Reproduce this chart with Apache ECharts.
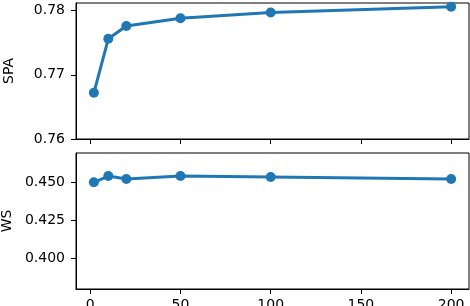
<!DOCTYPE html>
<html><head><meta charset="utf-8">
<script src="https://cdn.jsdelivr.net/npm/echarts@6/dist/echarts.min.js"></script>
<style>html,body{margin:0;padding:0;background:#fff}#c{width:470px;height:306px}</style>
</head><body><div id="c"></div>
<script>
const xValues = [2, 10, 20, 50, 100, 200];
const spaValues = [0.7672, 0.7756, 0.7776, 0.7788, 0.7797, 0.7806];
const wsValues = [0.4500, 0.4541, 0.4522, 0.4541, 0.4535, 0.4522];
const xTicks = [0, 50, 100, 150, 200];
const spaTicks = [0.76, 0.77, 0.78];
const wsTicks = [0.400, 0.425, 0.450];

const font = 'DejaVu Sans';
const blue = '#1f77b4';
function xAxis(idx, showLabels) {
  return {
    type: 'value', gridIndex: idx, min: -7.9, max: 209.9,
    axisLine: {show: true, onZero: false, lineStyle: {color: '#000', width: 1}},
    axisTick: {show: true, length: 5, inside: false, customValues: xTicks, lineStyle: {color: '#000', width: 1}},
    axisLabel: {show: showLabels, customValues: xTicks, margin: 9, fontFamily: font, fontSize: 14, color: '#000'},
    splitLine: {show: false}
  };
}
function yAxis(idx, name, min, max, ticks, dec) {
  return {
    type: 'value', gridIndex: idx, min: min, max: max, name: name,
    nameLocation: 'middle', nameGap: 60, nameRotate: 90,
    nameTextStyle: {fontFamily: font, fontSize: 14, color: '#000'},
    axisLine: {show: true, onZero: false, lineStyle: {color: '#000', width: 1}},
    axisTick: {show: true, length: 5, inside: false, customValues: ticks, lineStyle: {color: '#000', width: 1}},
    axisLabel: {customValues: ticks, margin: 11, fontFamily: font, fontSize: 14, color: '#000',
      formatter: v => v.toFixed(dec)},
    splitLine: {show: false}
  };
}
const chart = echarts.init(document.getElementById('c'), null, {renderer: 'canvas'});
chart.setOption({
  animation: false,
  backgroundColor: '#fff',
  textStyle: {fontFamily: font, fontSize: 14},
  grid: [
    {left: 76, top: 3, width: 393, height: 136, show: true, borderColor: '#000', borderWidth: 1,
     containLabel: false, outerBoundsMode: 'none'},
    {left: 76, top: 153, width: 393, height: 136, show: true, borderColor: '#000', borderWidth: 1,
     containLabel: false, outerBoundsMode: 'none'}
  ],
  xAxis: [xAxis(0, false), xAxis(1, true)],
  yAxis: [yAxis(0, 'SPA', 0.76, 0.78118, spaTicks, 2), yAxis(1, 'WS', 0.38, 0.4692, wsTicks, 3)],
  series: [
    {type: 'line', xAxisIndex: 0, yAxisIndex: 0, data: xValues.map((x, i) => [x, spaValues[i]]),
     symbol: 'circle', symbolSize: 10, lineStyle: {color: blue, width: 3}, itemStyle: {color: blue}},
    {type: 'line', xAxisIndex: 1, yAxisIndex: 1, data: xValues.map((x, i) => [x, wsValues[i]]),
     symbol: 'circle', symbolSize: 10, lineStyle: {color: blue, width: 3}, itemStyle: {color: blue}}
  ]
});
</script></body></html>
